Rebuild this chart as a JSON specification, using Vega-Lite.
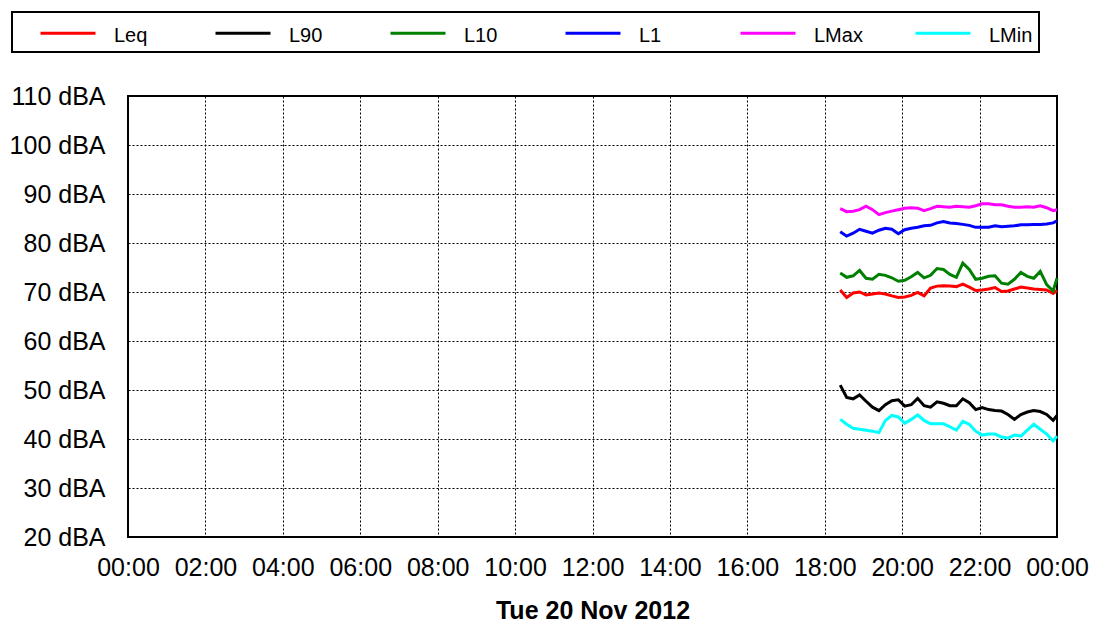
{
"$schema": "https://vega.github.io/schema/vega-lite/v6.json",
"width": 929, "height": 441,
"autosize": {"type": "none"},
"padding": {"left": 128, "top": 96, "right": 37, "bottom": 96},
"background": "white",
"config": {"view": {"stroke": "#000", "strokeWidth": 2}, "font": "Liberation Sans", "legend": {"strokeWidth": 2}},
"data": {"values": [
{"t":"2012-11-20T18:24","s":"Leq","v":70.4},{"t":"2012-11-20T18:34","s":"Leq","v":68.9},{"t":"2012-11-20T18:44","s":"Leq","v":69.8},{"t":"2012-11-20T18:54","s":"Leq","v":70.0},{"t":"2012-11-20T19:04","s":"Leq","v":69.4},{"t":"2012-11-20T19:14","s":"Leq","v":69.6},{"t":"2012-11-20T19:24","s":"Leq","v":69.8},{"t":"2012-11-20T19:34","s":"Leq","v":69.6},{"t":"2012-11-20T19:44","s":"Leq","v":69.2},{"t":"2012-11-20T19:54","s":"Leq","v":68.9},{"t":"2012-11-20T20:04","s":"Leq","v":69.0},{"t":"2012-11-20T20:14","s":"Leq","v":69.3},{"t":"2012-11-20T20:24","s":"Leq","v":69.9},{"t":"2012-11-20T20:34","s":"Leq","v":69.2},{"t":"2012-11-20T20:44","s":"Leq","v":70.8},{"t":"2012-11-20T20:54","s":"Leq","v":71.2},{"t":"2012-11-20T21:04","s":"Leq","v":71.3},{"t":"2012-11-20T21:14","s":"Leq","v":71.2},{"t":"2012-11-20T21:24","s":"Leq","v":71.1},{"t":"2012-11-20T21:34","s":"Leq","v":71.6},{"t":"2012-11-20T21:44","s":"Leq","v":71.0},{"t":"2012-11-20T21:54","s":"Leq","v":70.3},{"t":"2012-11-20T22:04","s":"Leq","v":70.4},{"t":"2012-11-20T22:14","s":"Leq","v":70.6},{"t":"2012-11-20T22:24","s":"Leq","v":70.9},{"t":"2012-11-20T22:34","s":"Leq","v":70.1},{"t":"2012-11-20T22:44","s":"Leq","v":70.2},{"t":"2012-11-20T22:54","s":"Leq","v":70.6},{"t":"2012-11-20T23:04","s":"Leq","v":71.0},{"t":"2012-11-20T23:14","s":"Leq","v":70.8},{"t":"2012-11-20T23:24","s":"Leq","v":70.6},{"t":"2012-11-20T23:34","s":"Leq","v":70.5},{"t":"2012-11-20T23:44","s":"Leq","v":70.4},{"t":"2012-11-20T23:54","s":"Leq","v":69.7},{"t":"2012-11-21T00:00","s":"Leq","v":70.3},
{"t":"2012-11-20T18:24","s":"L90","v":51.0},{"t":"2012-11-20T18:34","s":"L90","v":48.5},{"t":"2012-11-20T18:44","s":"L90","v":48.2},{"t":"2012-11-20T18:54","s":"L90","v":49.0},{"t":"2012-11-20T19:04","s":"L90","v":47.7},{"t":"2012-11-20T19:14","s":"L90","v":46.5},{"t":"2012-11-20T19:24","s":"L90","v":45.8},{"t":"2012-11-20T19:34","s":"L90","v":47.0},{"t":"2012-11-20T19:44","s":"L90","v":47.8},{"t":"2012-11-20T19:54","s":"L90","v":48.0},{"t":"2012-11-20T20:04","s":"L90","v":46.7},{"t":"2012-11-20T20:14","s":"L90","v":47.0},{"t":"2012-11-20T20:24","s":"L90","v":48.3},{"t":"2012-11-20T20:34","s":"L90","v":46.8},{"t":"2012-11-20T20:44","s":"L90","v":46.5},{"t":"2012-11-20T20:54","s":"L90","v":47.6},{"t":"2012-11-20T21:04","s":"L90","v":47.3},{"t":"2012-11-20T21:14","s":"L90","v":46.8},{"t":"2012-11-20T21:24","s":"L90","v":46.8},{"t":"2012-11-20T21:34","s":"L90","v":48.2},{"t":"2012-11-20T21:44","s":"L90","v":47.4},{"t":"2012-11-20T21:54","s":"L90","v":46.0},{"t":"2012-11-20T22:04","s":"L90","v":46.4},{"t":"2012-11-20T22:14","s":"L90","v":46.0},{"t":"2012-11-20T22:24","s":"L90","v":45.8},{"t":"2012-11-20T22:34","s":"L90","v":45.7},{"t":"2012-11-20T22:44","s":"L90","v":45.0},{"t":"2012-11-20T22:54","s":"L90","v":44.0},{"t":"2012-11-20T23:04","s":"L90","v":45.0},{"t":"2012-11-20T23:14","s":"L90","v":45.5},{"t":"2012-11-20T23:24","s":"L90","v":45.8},{"t":"2012-11-20T23:34","s":"L90","v":45.6},{"t":"2012-11-20T23:44","s":"L90","v":45.0},{"t":"2012-11-20T23:54","s":"L90","v":43.8},{"t":"2012-11-21T00:00","s":"L90","v":44.8},
{"t":"2012-11-20T18:24","s":"L10","v":73.9},{"t":"2012-11-20T18:34","s":"L10","v":73.0},{"t":"2012-11-20T18:44","s":"L10","v":73.3},{"t":"2012-11-20T18:54","s":"L10","v":74.4},{"t":"2012-11-20T19:04","s":"L10","v":72.8},{"t":"2012-11-20T19:14","s":"L10","v":72.6},{"t":"2012-11-20T19:24","s":"L10","v":73.6},{"t":"2012-11-20T19:34","s":"L10","v":73.4},{"t":"2012-11-20T19:44","s":"L10","v":72.9},{"t":"2012-11-20T19:54","s":"L10","v":72.2},{"t":"2012-11-20T20:04","s":"L10","v":72.4},{"t":"2012-11-20T20:14","s":"L10","v":73.1},{"t":"2012-11-20T20:24","s":"L10","v":74.0},{"t":"2012-11-20T20:34","s":"L10","v":72.9},{"t":"2012-11-20T20:44","s":"L10","v":73.4},{"t":"2012-11-20T20:54","s":"L10","v":74.8},{"t":"2012-11-20T21:04","s":"L10","v":74.6},{"t":"2012-11-20T21:14","s":"L10","v":73.6},{"t":"2012-11-20T21:24","s":"L10","v":73.0},{"t":"2012-11-20T21:34","s":"L10","v":75.9},{"t":"2012-11-20T21:44","s":"L10","v":74.6},{"t":"2012-11-20T21:54","s":"L10","v":72.6},{"t":"2012-11-20T22:04","s":"L10","v":72.8},{"t":"2012-11-20T22:14","s":"L10","v":73.2},{"t":"2012-11-20T22:24","s":"L10","v":73.3},{"t":"2012-11-20T22:34","s":"L10","v":71.8},{"t":"2012-11-20T22:44","s":"L10","v":71.6},{"t":"2012-11-20T22:54","s":"L10","v":72.6},{"t":"2012-11-20T23:04","s":"L10","v":74.0},{"t":"2012-11-20T23:14","s":"L10","v":73.2},{"t":"2012-11-20T23:24","s":"L10","v":72.8},{"t":"2012-11-20T23:34","s":"L10","v":74.2},{"t":"2012-11-20T23:44","s":"L10","v":71.5},{"t":"2012-11-20T23:54","s":"L10","v":70.2},{"t":"2012-11-21T00:00","s":"L10","v":72.8},
{"t":"2012-11-20T18:24","s":"L1","v":82.3},{"t":"2012-11-20T18:34","s":"L1","v":81.4},{"t":"2012-11-20T18:44","s":"L1","v":82.0},{"t":"2012-11-20T18:54","s":"L1","v":82.8},{"t":"2012-11-20T19:04","s":"L1","v":82.4},{"t":"2012-11-20T19:14","s":"L1","v":82.0},{"t":"2012-11-20T19:24","s":"L1","v":82.6},{"t":"2012-11-20T19:34","s":"L1","v":83.0},{"t":"2012-11-20T19:44","s":"L1","v":82.8},{"t":"2012-11-20T19:54","s":"L1","v":81.9},{"t":"2012-11-20T20:04","s":"L1","v":82.7},{"t":"2012-11-20T20:14","s":"L1","v":83.0},{"t":"2012-11-20T20:24","s":"L1","v":83.2},{"t":"2012-11-20T20:34","s":"L1","v":83.5},{"t":"2012-11-20T20:44","s":"L1","v":83.6},{"t":"2012-11-20T20:54","s":"L1","v":84.1},{"t":"2012-11-20T21:04","s":"L1","v":84.4},{"t":"2012-11-20T21:14","s":"L1","v":84.1},{"t":"2012-11-20T21:24","s":"L1","v":84.0},{"t":"2012-11-20T21:34","s":"L1","v":83.8},{"t":"2012-11-20T21:44","s":"L1","v":83.6},{"t":"2012-11-20T21:54","s":"L1","v":83.2},{"t":"2012-11-20T22:04","s":"L1","v":83.2},{"t":"2012-11-20T22:14","s":"L1","v":83.2},{"t":"2012-11-20T22:24","s":"L1","v":83.5},{"t":"2012-11-20T22:34","s":"L1","v":83.3},{"t":"2012-11-20T22:44","s":"L1","v":83.4},{"t":"2012-11-20T22:54","s":"L1","v":83.5},{"t":"2012-11-20T23:04","s":"L1","v":83.7},{"t":"2012-11-20T23:14","s":"L1","v":83.7},{"t":"2012-11-20T23:24","s":"L1","v":83.8},{"t":"2012-11-20T23:34","s":"L1","v":83.8},{"t":"2012-11-20T23:44","s":"L1","v":83.9},{"t":"2012-11-20T23:54","s":"L1","v":84.1},{"t":"2012-11-21T00:00","s":"L1","v":84.5},
{"t":"2012-11-20T18:24","s":"LMax","v":87.0},{"t":"2012-11-20T18:34","s":"LMax","v":86.4},{"t":"2012-11-20T18:44","s":"LMax","v":86.5},{"t":"2012-11-20T18:54","s":"LMax","v":86.8},{"t":"2012-11-20T19:04","s":"LMax","v":87.5},{"t":"2012-11-20T19:14","s":"LMax","v":86.8},{"t":"2012-11-20T19:24","s":"LMax","v":85.8},{"t":"2012-11-20T19:34","s":"LMax","v":86.2},{"t":"2012-11-20T19:44","s":"LMax","v":86.5},{"t":"2012-11-20T19:54","s":"LMax","v":86.8},{"t":"2012-11-20T20:04","s":"LMax","v":87.1},{"t":"2012-11-20T20:14","s":"LMax","v":87.2},{"t":"2012-11-20T20:24","s":"LMax","v":87.1},{"t":"2012-11-20T20:34","s":"LMax","v":86.6},{"t":"2012-11-20T20:44","s":"LMax","v":87.0},{"t":"2012-11-20T20:54","s":"LMax","v":87.5},{"t":"2012-11-20T21:04","s":"LMax","v":87.4},{"t":"2012-11-20T21:14","s":"LMax","v":87.3},{"t":"2012-11-20T21:24","s":"LMax","v":87.5},{"t":"2012-11-20T21:34","s":"LMax","v":87.4},{"t":"2012-11-20T21:44","s":"LMax","v":87.3},{"t":"2012-11-20T21:54","s":"LMax","v":87.6},{"t":"2012-11-20T22:04","s":"LMax","v":88.0},{"t":"2012-11-20T22:14","s":"LMax","v":88.0},{"t":"2012-11-20T22:24","s":"LMax","v":87.8},{"t":"2012-11-20T22:34","s":"LMax","v":87.8},{"t":"2012-11-20T22:44","s":"LMax","v":87.5},{"t":"2012-11-20T22:54","s":"LMax","v":87.3},{"t":"2012-11-20T23:04","s":"LMax","v":87.3},{"t":"2012-11-20T23:14","s":"LMax","v":87.4},{"t":"2012-11-20T23:24","s":"LMax","v":87.3},{"t":"2012-11-20T23:34","s":"LMax","v":87.6},{"t":"2012-11-20T23:44","s":"LMax","v":87.2},{"t":"2012-11-20T23:54","s":"LMax","v":86.6},{"t":"2012-11-21T00:00","s":"LMax","v":86.8},
{"t":"2012-11-20T18:24","s":"LMin","v":44.0},{"t":"2012-11-20T18:34","s":"LMin","v":43.0},{"t":"2012-11-20T18:44","s":"LMin","v":42.2},{"t":"2012-11-20T18:54","s":"LMin","v":42.0},{"t":"2012-11-20T19:04","s":"LMin","v":41.8},{"t":"2012-11-20T19:14","s":"LMin","v":41.6},{"t":"2012-11-20T19:24","s":"LMin","v":41.3},{"t":"2012-11-20T19:34","s":"LMin","v":43.8},{"t":"2012-11-20T19:44","s":"LMin","v":44.8},{"t":"2012-11-20T19:54","s":"LMin","v":44.5},{"t":"2012-11-20T20:04","s":"LMin","v":43.2},{"t":"2012-11-20T20:14","s":"LMin","v":44.0},{"t":"2012-11-20T20:24","s":"LMin","v":44.9},{"t":"2012-11-20T20:34","s":"LMin","v":43.8},{"t":"2012-11-20T20:44","s":"LMin","v":43.1},{"t":"2012-11-20T20:54","s":"LMin","v":43.1},{"t":"2012-11-20T21:04","s":"LMin","v":43.1},{"t":"2012-11-20T21:14","s":"LMin","v":42.5},{"t":"2012-11-20T21:24","s":"LMin","v":41.8},{"t":"2012-11-20T21:34","s":"LMin","v":43.6},{"t":"2012-11-20T21:44","s":"LMin","v":43.0},{"t":"2012-11-20T21:54","s":"LMin","v":41.6},{"t":"2012-11-20T22:04","s":"LMin","v":40.8},{"t":"2012-11-20T22:14","s":"LMin","v":41.0},{"t":"2012-11-20T22:24","s":"LMin","v":41.0},{"t":"2012-11-20T22:34","s":"LMin","v":40.4},{"t":"2012-11-20T22:44","s":"LMin","v":40.2},{"t":"2012-11-20T22:54","s":"LMin","v":40.8},{"t":"2012-11-20T23:04","s":"LMin","v":40.6},{"t":"2012-11-20T23:14","s":"LMin","v":41.8},{"t":"2012-11-20T23:24","s":"LMin","v":43.0},{"t":"2012-11-20T23:34","s":"LMin","v":42.0},{"t":"2012-11-20T23:44","s":"LMin","v":41.0},{"t":"2012-11-20T23:54","s":"LMin","v":39.6},{"t":"2012-11-21T00:00","s":"LMin","v":40.6}
]},
"mark": {"type": "line", "strokeWidth": 3},
"encoding": {
  "x": {"field": "t", "type": "temporal",
    "scale": {"domain": [{"year": 2012, "month": 11, "date": 20, "hours": 0}, {"year": 2012, "month": 11, "date": 21, "hours": 0}]},
    "axis": {"format": "%H:%M",
      "values": [{"year": 2012, "month": 11, "date": 20, "hours": 0}, {"year": 2012, "month": 11, "date": 20, "hours": 2}, {"year": 2012, "month": 11, "date": 20, "hours": 4}, {"year": 2012, "month": 11, "date": 20, "hours": 6}, {"year": 2012, "month": 11, "date": 20, "hours": 8}, {"year": 2012, "month": 11, "date": 20, "hours": 10}, {"year": 2012, "month": 11, "date": 20, "hours": 12}, {"year": 2012, "month": 11, "date": 20, "hours": 14}, {"year": 2012, "month": 11, "date": 20, "hours": 16}, {"year": 2012, "month": 11, "date": 20, "hours": 18}, {"year": 2012, "month": 11, "date": 20, "hours": 20}, {"year": 2012, "month": 11, "date": 20, "hours": 22}, {"year": 2012, "month": 11, "date": 21, "hours": 0}],
      "title": "Tue 20 Nov 2012",
      "titleFont": "Liberation Sans", "titleFontWeight": "bold", "titleFontSize": 25, "titleColor": "#000", "titlePadding": 18,
      "labelFont": "Liberation Sans", "labelFontSize": 25, "labelColor": "#000", "labelPadding": 18,
      "labelFlush": false, "labelOverlap": false, "ticks": false, "domain": false,
      "grid": true, "gridColor": "#000", "gridDash": [2, 2], "gridOpacity": 1, "gridWidth": 1}},
  "y": {"field": "v", "type": "quantitative",
    "scale": {"domain": [20, 110], "nice": false, "zero": false},
    "axis": {"values": [20, 30, 40, 50, 60, 70, 80, 90, 100, 110], "labelExpr": "datum.value + ' dBA'", "title": null,
      "labelFont": "Liberation Sans", "labelFontSize": 25, "labelColor": "#000", "labelPadding": 23,
      "labelOverlap": false, "ticks": false, "domain": false,
      "grid": true, "gridColor": "#000", "gridDash": [2, 2], "gridOpacity": 1, "gridWidth": 1}},
  "color": {"field": "s", "type": "nominal",
    "scale": {"domain": ["Leq", "L90", "L10", "L1", "LMax", "LMin"], "range": ["#ff0000", "#000000", "#008000", "#0000ff", "#ff00ff", "#00ffff"]},
    "legend": {"orient": "none", "legendX": -116, "legendY": -84, "direction": "horizontal", "columns": 6,
      "title": " ", "titleOrient": "left", "titleFontSize": 20, "titlePadding": 21,
      "symbolType": "M-1,-0.5H1", "symbolSize": 3025, "symbolStrokeWidth": 3,
      "labelFont": "Liberation Sans", "labelFontSize": 20, "labelColor": "#000", "labelOffset": 17, "labelBaseline": "line-bottom",
      "gridAlign": "all", "columnPadding": 46, "padding": 6, "strokeColor": "#000", "fillColor": "#fff"}}
}
}
